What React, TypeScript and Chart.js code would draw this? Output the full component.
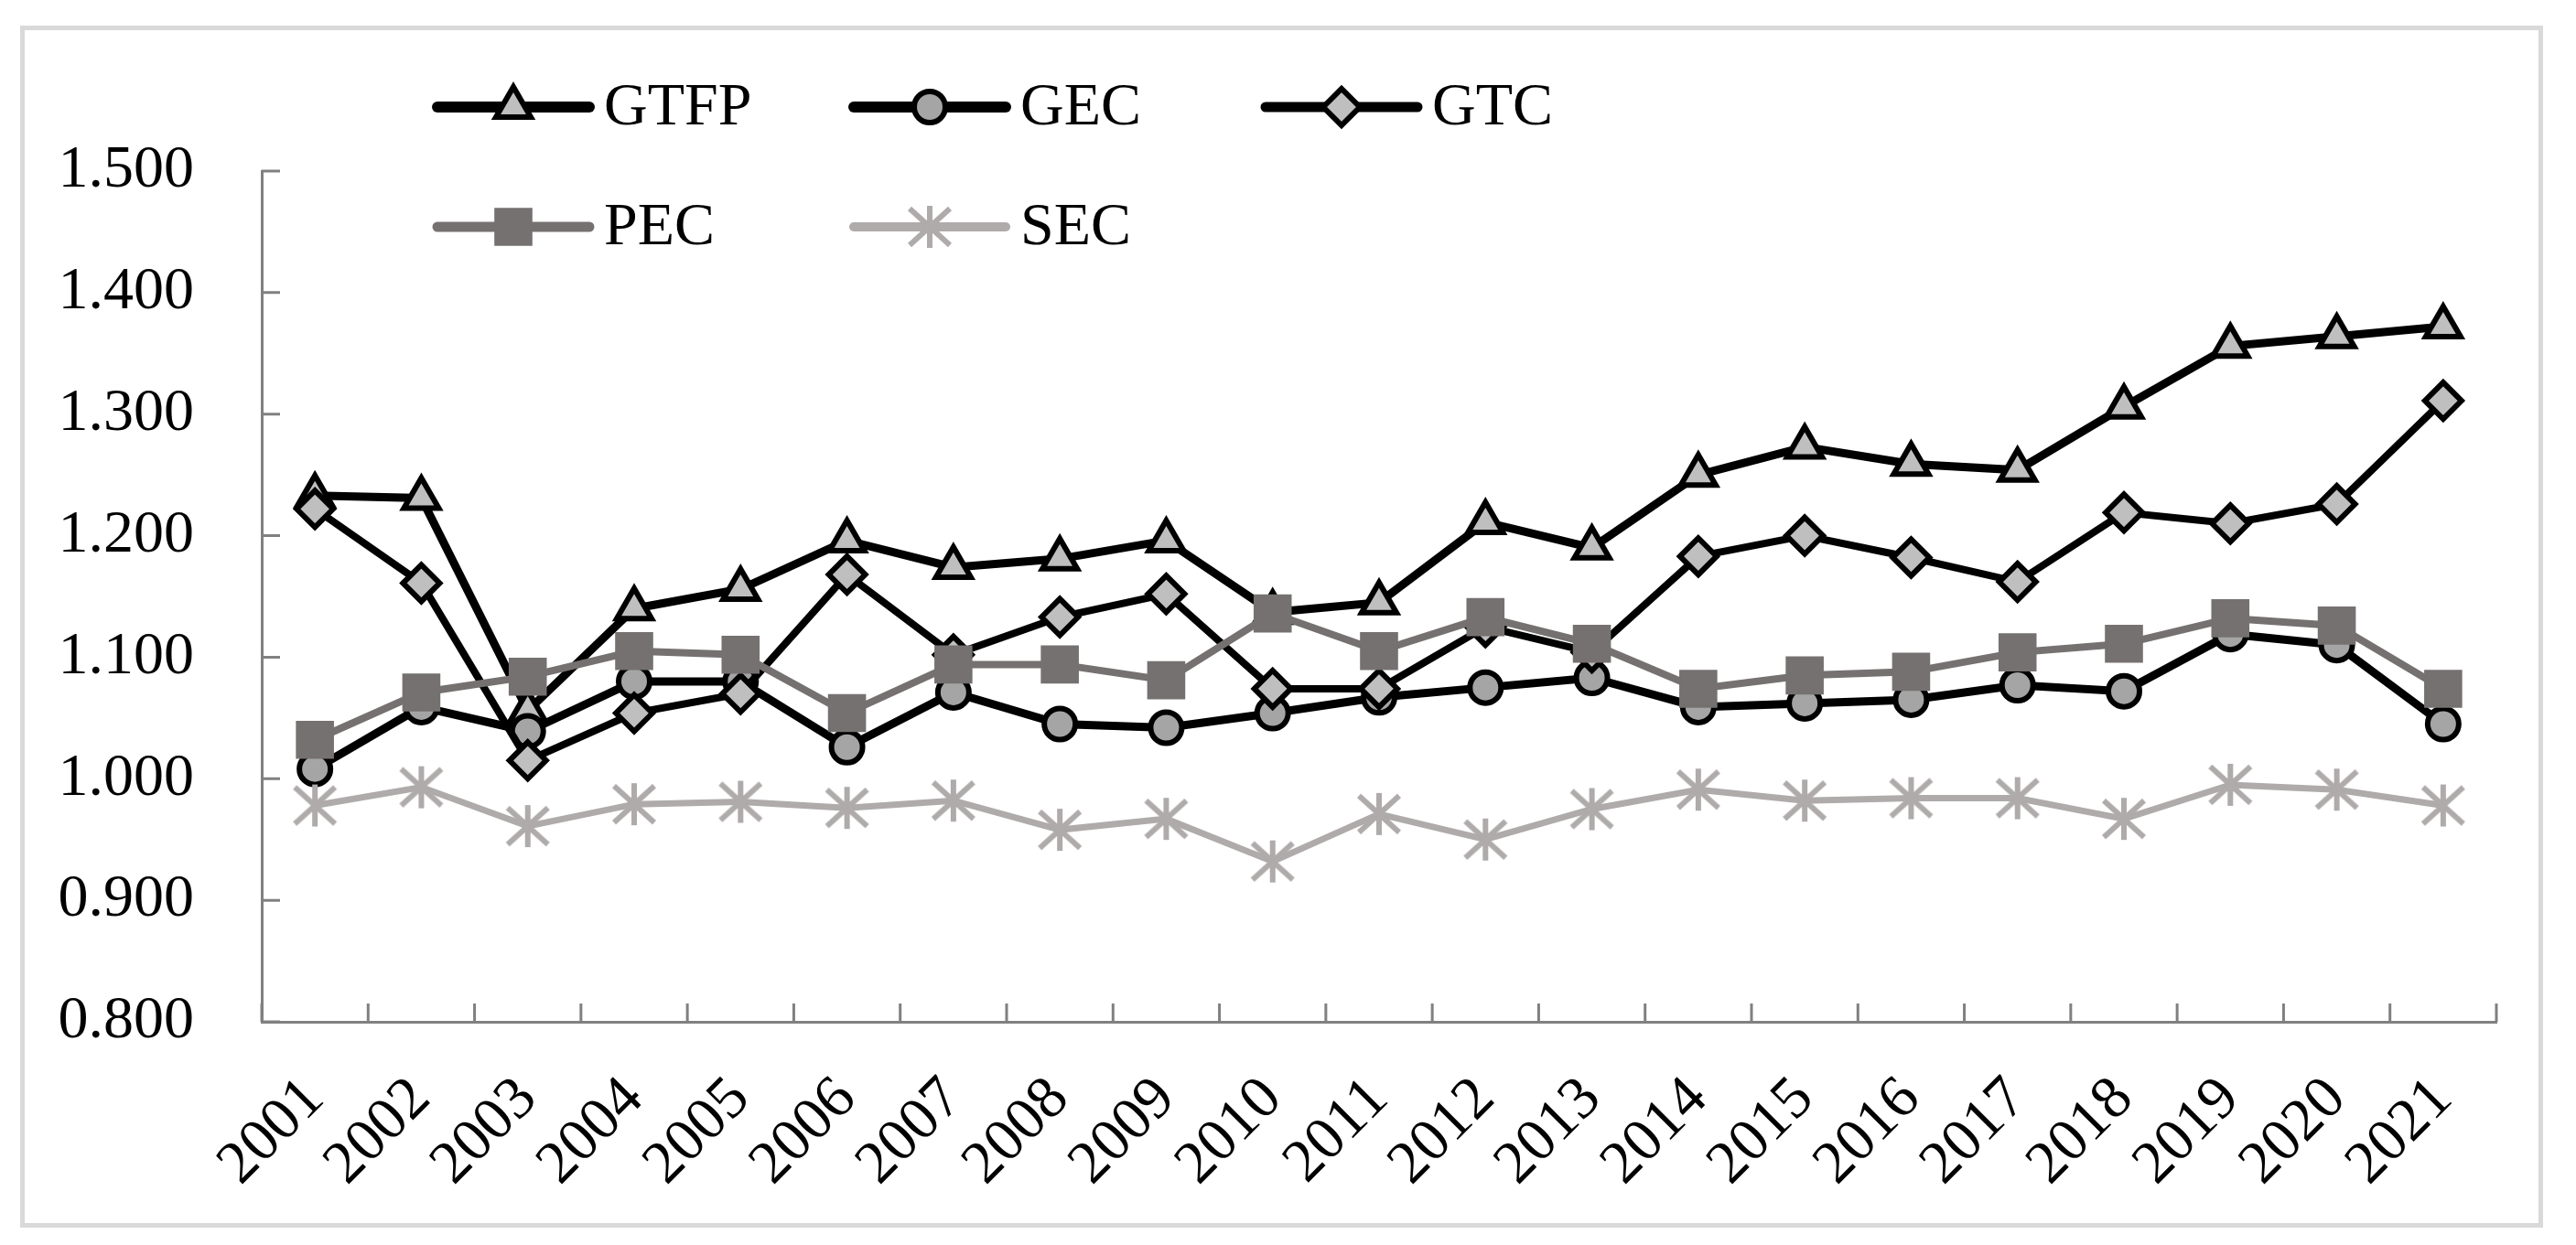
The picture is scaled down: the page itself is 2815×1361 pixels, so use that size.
import React, { useEffect, useRef } from 'react';
import { Chart, registerables } from 'chart.js';
import { drawPoint } from 'chart.js/helpers';

Chart.register(...registerables);

const years = ['2001', '2002', '2003', '2004', '2005', '2006', '2007', '2008', '2009', '2010', '2011', '2012', '2013', '2014', '2015', '2016', '2017', '2018', '2019', '2020', '2021'];

const GTFP = [1.233, 1.231, 1.056, 1.140, 1.156, 1.196, 1.174, 1.181, 1.196, 1.137, 1.145, 1.211, 1.190, 1.250, 1.273, 1.259, 1.254, 1.306, 1.356, 1.364, 1.372];
const GEC = [1.008, 1.059, 1.039, 1.080, 1.080, 1.026, 1.071, 1.045, 1.042, 1.054, 1.067, 1.075, 1.083, 1.059, 1.062, 1.065, 1.077, 1.072, 1.119, 1.110, 1.045];
const GTC = [1.222, 1.161, 1.015, 1.054, 1.070, 1.168, 1.102, 1.133, 1.152, 1.074, 1.074, 1.125, 1.104, 1.183, 1.200, 1.182, 1.162, 1.219, 1.210, 1.226, 1.311];
const PEC = [1.032, 1.071, 1.084, 1.105, 1.102, 1.054, 1.094, 1.094, 1.081, 1.136, 1.105, 1.133, 1.111, 1.074, 1.085, 1.088, 1.104, 1.111, 1.132, 1.126, 1.074];
const SEC = [0.978, 0.993, 0.961, 0.979, 0.981, 0.976, 0.982, 0.958, 0.967, 0.932, 0.971, 0.950, 0.975, 0.991, 0.982, 0.984, 0.984, 0.967, 0.995, 0.991, 0.978];

const Y_MIN = 0.8;
const Y_MAX = 1.5;
const Y_STEP = 0.1;

const FONT = '"Liberation Serif", "Times New Roman", serif';
const FONT_SIZE = 66;
const AXIS_COLOR = '#808080';

function makeAsterisk(color: string, lw: number): HTMLCanvasElement {
  const c = document.createElement('canvas');
  c.width = 60;
  c.height = 60;
  const ctx = c.getContext('2d')!;
  ctx.strokeStyle = color;
  ctx.lineWidth = lw;
  ctx.beginPath();
  ctx.moveTo(30, 7);
  ctx.lineTo(30, 53);
  ctx.moveTo(8, 10);
  ctx.lineTo(52, 50);
  ctx.moveTo(8, 50);
  ctx.lineTo(52, 10);
  ctx.stroke();
  return c;
}

const axisTicksPlugin = {
  id: 'axisTicks',
  beforeDatasetsDraw(chart: any) {
    const { ctx, chartArea } = chart;
    const x = chart.scales.x;
    const y = chart.scales.y;
    ctx.save();
    ctx.strokeStyle = AXIS_COLOR;
    ctx.lineWidth = 3;
    ctx.beginPath();
    y.ticks.forEach((_t: any, i: number) => {
      const py = y.getPixelForTick(i);
      ctx.moveTo(chartArea.left, py);
      ctx.lineTo(chartArea.left + 20, py);
    });
    for (let k = 0; k <= years.length; k++) {
      const px = x.getPixelForValue(k - 0.5);
      ctx.moveTo(px, chartArea.bottom);
      ctx.lineTo(px, chartArea.bottom - 20);
    }
    ctx.stroke();
    ctx.restore();
  },
};

const legendPlugin = {
  id: 'customLegend',
  afterDraw(chart: any) {
    const { ctx } = chart;
    const rows = [117, 248];
    const cols = [478, 933, 1383];
    const lineLen = 166;
    const slots = [
      [0, 0],
      [0, 1],
      [0, 2],
      [1, 0],
      [1, 1],
    ];
    chart.data.datasets.forEach((ds: any, i: number) => {
      const [r, c] = slots[i];
      const y = rows[r];
      const x0 = cols[c];
      ctx.save();
      ctx.strokeStyle = ds.borderColor;
      ctx.lineWidth = ds.borderWidth + 3;
      ctx.lineCap = 'round';
      ctx.beginPath();
      ctx.moveTo(x0, y);
      ctx.lineTo(x0 + lineLen, y);
      ctx.stroke();
      ctx.restore();

      ctx.save();
      ctx.fillStyle = ds.pointBackgroundColor;
      ctx.strokeStyle = ds.pointBorderColor;
      ctx.lineWidth = ds.pointBorderWidth;
      drawPoint(ctx, { pointStyle: ds.pointStyle, radius: ds.pointRadius, rotation: 0, borderWidth: ds.pointBorderWidth }, x0 + lineLen / 2, y);
      ctx.restore();

      ctx.save();
      ctx.fillStyle = '#000';
      ctx.font = `${FONT_SIZE}px ${FONT}`;
      ctx.textBaseline = 'middle';
      ctx.textAlign = 'left';
      ctx.fillText(ds.label, x0 + lineLen + 16, y + 2);
      ctx.restore();
    });
  },
};

export default function App() {
  const ref = useRef<HTMLCanvasElement>(null);

  useEffect(() => {
    if (!ref.current) return;
    const asterisk = makeAsterisk('#afabab', 6);
    const chart = new Chart(ref.current, {
      type: 'line',
      data: {
        labels: years,
        datasets: [
          {
            label: 'GTFP',
            data: GTFP,
            borderColor: '#000000',
            borderWidth: 9,
            pointStyle: 'triangle',
            pointRadius: 22,
            pointHoverRadius: 22,
            pointBackgroundColor: '#bfbfbf',
            pointBorderColor: '#000000',
            pointBorderWidth: 6,
            tension: 0,
            order: 5,
          },
          {
            label: 'GEC',
            data: GEC,
            borderColor: '#000000',
            borderWidth: 9,
            pointStyle: 'circle',
            pointRadius: 17,
            pointHoverRadius: 17,
            pointBackgroundColor: '#a5a5a5',
            pointBorderColor: '#000000',
            pointBorderWidth: 6,
            tension: 0,
            order: 4,
          },
          {
            label: 'GTC',
            data: GTC,
            borderColor: '#000000',
            borderWidth: 8,
            pointStyle: 'rectRot',
            pointRadius: 20,
            pointHoverRadius: 20,
            pointBackgroundColor: '#bfbfbf',
            pointBorderColor: '#000000',
            pointBorderWidth: 6,
            tension: 0,
            order: 3,
          },
          {
            label: 'PEC',
            data: PEC,
            borderColor: '#767171',
            borderWidth: 8,
            pointStyle: 'rect',
            pointRadius: 28,
            pointHoverRadius: 28,
            pointBackgroundColor: '#767171',
            pointBorderColor: '#767171',
            pointBorderWidth: 2,
            tension: 0,
            order: 2,
          },
          {
            label: 'SEC',
            data: SEC,
            borderColor: '#afabab',
            borderWidth: 7,
            pointStyle: asterisk as any,
            pointRadius: 23,
            pointHoverRadius: 23,
            pointBackgroundColor: '#afabab',
            pointBorderColor: '#afabab',
            pointBorderWidth: 6,
            tension: 0,
            order: 1,
          },
        ],
      },
      options: {
        responsive: false,
        animation: false,
        devicePixelRatio: 1,
        events: [],
        layout: { padding: { top: 187, right: 87, left: 0, bottom: 0 } },
        plugins: {
          legend: { display: false },
          tooltip: { enabled: false },
          title: { display: false },
        },
        scales: {
          x: {
            type: 'category',
            offset: true,
            grid: { display: false, drawTicks: false, offset: true },
            border: { display: true, color: AXIS_COLOR, width: 3 },
            ticks: {
              autoSkip: false,
              minRotation: 45,
              maxRotation: 45,
              padding: 46,
              color: '#000',
              font: { family: FONT, size: FONT_SIZE },
            },
            afterFit: (scale: any) => {
              scale.height = 244;
            },
          },
          y: {
            min: Y_MIN,
            max: Y_MAX,
            grid: { display: false, drawTicks: false },
            border: { display: true, color: AXIS_COLOR, width: 3 },
            ticks: {
              stepSize: Y_STEP,
              padding: 74,
              color: '#000',
              font: { family: FONT, size: FONT_SIZE },
              callback: (v: any) => Number(v).toFixed(3),
            },
            afterFit: (scale: any) => {
              scale.width = 286;
            },
          },
        },
      },
      plugins: [axisTicksPlugin, legendPlugin],
    });
    return () => chart.destroy();
  }, []);

  return (
    <div style={{ position: 'fixed', left: 0, top: 0, width: 2815, height: 1361, background: '#ffffff' }}>
      <div
        style={{
          position: 'absolute',
          left: 22,
          top: 28,
          width: 2757,
          height: 1314,
          border: '5px solid #d9d9d9',
          boxSizing: 'border-box',
        }}
      />
      <canvas ref={ref} width={2815} height={1361} style={{ position: 'absolute', left: 0, top: 0, width: 2815, height: 1361 }} />
    </div>
  );
}
